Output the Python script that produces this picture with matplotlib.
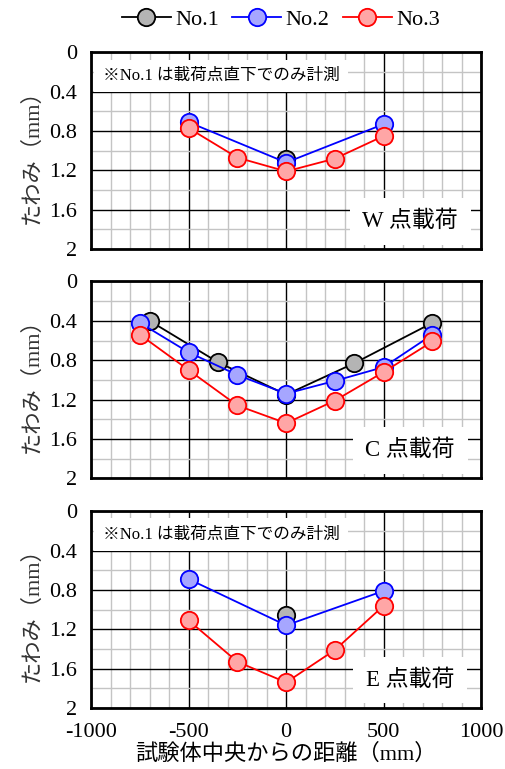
import matplotlib
matplotlib.use("Agg")
import matplotlib.pyplot as plt
from matplotlib.ticker import MultipleLocator

plt.rcParams['font.family'] = ['Liberation Serif', 'Noto Sans CJK JP']

# ---- data ----
series_names = ["No.1", "No.2", "No.3"]
panel_labels = ["W 点載荷", "C 点載荷", "E 点載荷"]
note_text = "※No.1 は載荷点直下でのみ計測"

# W panel
w_no1_x = [0]
w_no1_y = [1.08]
w_no2_x = [-500, 0, 500]
w_no2_y = [0.71, 1.12, 0.73]
w_no3_x = [-500, -250, 0, 250, 500]
w_no3_y = [0.77, 1.07, 1.21, 1.08, 0.85]

# C panel
c_no1_x = [-700, -350, 0, 350, 750]
c_no1_y = [0.40, 0.82, 1.15, 0.83, 0.42]
c_no2_x = [-750, -500, -250, 0, 250, 500, 750]
c_no2_y = [0.42, 0.72, 0.95, 1.14, 1.01, 0.87, 0.54]
c_no3_x = [-750, -500, -250, 0, 250, 500, 750]
c_no3_y = [0.54, 0.90, 1.26, 1.44, 1.21, 0.92, 0.61]

# E panel
e_no1_x = [0]
e_no1_y = [1.05]
e_no2_x = [-500, 0, 500]
e_no2_y = [0.69, 1.16, 0.81]
e_no3_x = [-500, -250, 0, 250, 500]
e_no3_y = [1.11, 1.53, 1.74, 1.41, 0.96]

panels = [
    ((w_no1_x, w_no1_y), (w_no2_x, w_no2_y), (w_no3_x, w_no3_y), True),
    ((c_no1_x, c_no1_y), (c_no2_x, c_no2_y), (c_no3_x, c_no3_y), False),
    ((e_no1_x, e_no1_y), (e_no2_x, e_no2_y), (e_no3_x, e_no3_y), True),
]

line_colors = ["black", "#0000ff", "#ff0000"]
face_colors = ["#b4b4b4", "#a6a6ff", "#ffa6a6"]

fig = plt.figure(figsize=(5.06, 7.69), dpi=100)
left, width, height = 0.180, 0.771, 0.256
bottoms = [0.676, 0.378, 0.0793]

handles = []
for i, (s1, s2, s3, show_note) in enumerate(panels):
    ax = fig.add_axes([left, bottoms[i], width, height])
    ax.set_xlim(-1000, 1000)
    ax.set_ylim(2, 0)
    ax.xaxis.set_major_locator(MultipleLocator(500))
    ax.xaxis.set_minor_locator(MultipleLocator(100))
    ax.yaxis.set_major_locator(MultipleLocator(0.4))
    ax.yaxis.set_minor_locator(MultipleLocator(0.2))
    ax.grid(which='minor', color='#c4c4c4', linewidth=1.0)
    ax.grid(which='major', color='black', linewidth=1.0)
    ax.set_axisbelow(True)
    for sp in ax.spines.values():
        sp.set_linewidth(2.0)
        sp.set_zorder(5)
    ax.tick_params(which='both', length=0, labelsize=16)
    ax.tick_params(axis='y', pad=10)
    ax.tick_params(axis='x', pad=11)
    ax.set_yticks([0, 0.4, 0.8, 1.2, 1.6, 2])
    ax.set_yticklabels(["0", "0.4", "0.8", "1.2", "1.6", "2"])
    if i < 2:
        ax.tick_params(axis='x', labelbottom=False)
    else:
        ax.set_xticks([-1000, -500, 0, 500, 1000])
        ax.set_xticklabels(["-1000", "-500", "0", "500", "1000"])
        ax.set_xlabel("試験体中央からの距離（mm）", fontsize=16, labelpad=1)
    ax.set_ylabel("たわみ（mm）", fontsize=16, color='#333333', labelpad=5)

    for k, (xs, ys) in enumerate([s1, s2, s3]):
        h, = ax.plot(xs, ys, color=line_colors[k], linewidth=1.3,
                     marker='o', markersize=12.5, markerfacecolor=face_colors[k],
                     markeredgecolor=line_colors[k], markeredgewidth=1.3,
                     zorder=3 + k * 0.1, clip_on=False,
                     label=series_names[k])
        if i == 0:
            handles.append(h)

    if show_note:
        ax.text(0.03, 0.88, note_text, transform=ax.transAxes, fontsize=12,
                ha='left', va='center', zorder=2,
                bbox=dict(facecolor='white', edgecolor='none', pad=6))
    ax.text(0.818, 0.142, panel_labels[i], transform=ax.transAxes, fontsize=16.5,
            ha='center', va='center', zorder=2,
            bbox=dict(facecolor='white', edgecolor='none', pad=9))

fig.legend(handles=handles, loc='center', bbox_to_anchor=(0.555, 0.974), ncol=3,
           frameon=False, fontsize=16, handlelength=2.2, handletextpad=0.2,
           columnspacing=0.6)

fig.savefig("out.png", dpi=100)
